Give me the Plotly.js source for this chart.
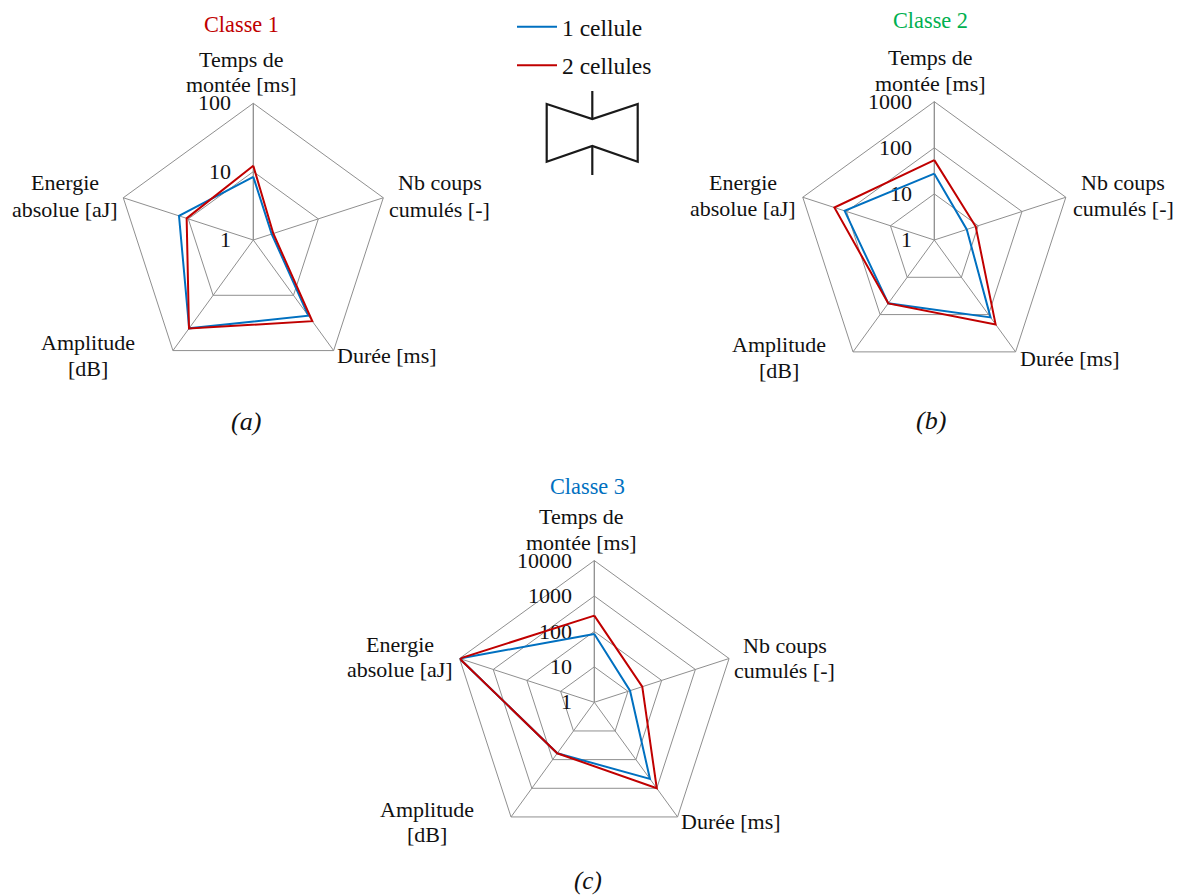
<!DOCTYPE html>
<html><head><meta charset="utf-8">
<script src="https://cdn.plot.ly/plotly-3.0.1.min.js"></script>
<style>html,body{margin:0;padding:0;background:#fff}#c{width:1182px;height:896px}</style>
</head><body><div id="c"></div>
<script>
const W = 1182, H = 896;
const categories = ["Temps de montée [ms]", "Nb coups cumulés [-]", "Durée [ms]", "Amplitude [dB]", "Energie absolue [aJ]"];
const seriesNames = ["1 cellule", "2 cellules"];
const classe1_1cellule = [8.4, 1.92, 23.4, 39.5, 13.9];
const classe1_2cellules = [12.2, 2.03, 29.4, 39.9, 10.6];
const classe2_1cellule = [27.5, 5.5, 119, 50, 111];
const classe2_2cellules = [54, 8.8, 183, 50, 190];
const classe3_1cellule = [85, 11.5, 471, 60, 10000];
const classe3_2cellules = [280, 26.5, 1000, 60, 10000];
const ticks1 = [1, 10, 100];
const ticks2 = [1, 10, 100, 1000];
const ticks3 = [1, 10, 100, 1000, 10000];

const BLUE = "#0070C0", RED = "#C00000", GREEN = "#00B050", GREY = "#8f8f8f", INK = "#111";
const FONT = "Liberation Serif";
const px = x => x / W, py = y => 1 - y / H;

function polar(cx, cy, R, ticks) {
  return {
    domain: {x: [px(cx - R), px(cx + R)], y: [py(cy + R), py(cy - R)]},
    gridshape: "linear", bgcolor: "rgba(0,0,0,0)",
    angularaxis: {type: "category", categoryarray: categories, categoryorder: "array",
      direction: "clockwise", rotation: 90, showticklabels: false, ticks: "",
      showline: true, linecolor: GREY, linewidth: 1, showgrid: true, gridcolor: GREY, gridwidth: 1, layer: "below traces"},
    radialaxis: {type: "log", range: [0, Math.log10(ticks[ticks.length - 1])], angle: 90, side: "counterclockwise",
      tickmode: "array", tickvals: ticks, ticktext: ticks.map(String), tickangle: 90,
      ticks: "outside", ticklen: 14, tickcolor: "rgba(0,0,0,0)", tickwidth: 1,
      tickfont: {family: FONT, size: 22, color: INK},
      showline: true, linecolor: GREY, linewidth: 1, showgrid: true, gridcolor: GREY, gridwidth: 1, layer: "below traces"}
  };
}
function trace(vals, name, color, subplot, legend) {
  return {type: "scatterpolar", mode: "lines", subplot, name,
    r: vals.concat(vals[0]), theta: categories.concat(categories[0]),
    line: {color, width: 2}, showlegend: legend, legendgroup: name, hoverinfo: "skip"};
}
const data = [
  trace(classe1_1cellule, seriesNames[0], BLUE, "polar", true),
  trace(classe1_2cellules, seriesNames[1], RED, "polar", true),
  trace(classe2_1cellule, seriesNames[0], BLUE, "polar2", false),
  trace(classe2_2cellules, seriesNames[1], RED, "polar2", false),
  trace(classe3_1cellule, seriesNames[0], BLUE, "polar3", false),
  trace(classe3_2cellules, seriesNames[1], RED, "polar3", false)
];

const annotations = [];
function txt(text, x, y, size, color, italic) {
  annotations.push({xref: "paper", yref: "paper", x: px(x), y: py(y), xanchor: "center", yanchor: "middle",
    showarrow: false, text: italic ? "<i>" + text + "</i>" : text,
    font: {family: FONT, size, color}});
}
function labels(rows) {
  rows.forEach(r => {
    txt(r[0], r[1], r[2], 22, INK);
    if (r[3]) txt(r[3], r[1], r[4], 22, INK);
  });
}
txt("Classe 1", 241, 25, 22.3, RED);
labels([["Temps de", 241, 59, "montée [ms]", 85], ["Nb coups", 439.5, 183, "cumulés [-]", 209],
  ["Durée [ms]", 387, 355], ["Amplitude", 88, 342, "[dB]", 368], ["Energie", 64.5, 183, "absolue [aJ]", 209]]);
txt("(a)", 245.7, 421, 26, INK, true);
txt("Classe 2", 930, 20.7, 22.3, GREEN);
labels([["Temps de", 930.7, 57.3, "montée [ms]", 83.3], ["Nb coups", 1123, 183, "cumulés [-]", 208],
  ["Durée [ms]", 1069.5, 358], ["Amplitude", 778.7, 345, "[dB]", 370.7], ["Energie", 743, 183, "absolue [aJ]", 208]]);
txt("(b)", 931, 420.7, 26, INK, true);
txt("Classe 3", 587, 486.7, 22.3, BLUE);
labels([["Temps de", 581, 516, "montée [ms]", 542], ["Nb coups", 784.7, 645, "cumulés [-]", 670],
  ["Durée [ms]", 730.7, 821.7], ["Amplitude", 426.7, 809, "[dB]", 834], ["Energie", 400, 644, "absolue [aJ]", 669]]);
txt("(c)", 587.7, 881, 25, INK, true);

function path(pts, close) {
  return pts.map((p, i) => (i ? "L" : "M") + px(p[0]).toFixed(5) + "," + py(p[1]).toFixed(5)).join(" ") + (close ? " Z" : "");
}
const sym = {type: "path", xref: "paper", yref: "paper", line: {color: "#1a1a1a", width: 2.2}};
const shapes = [
  Object.assign({}, sym, {path: path([[546.7,104],[592.3,119],[637.7,104],[637.7,161.7],[592.3,146],[546.7,161.7]], true)}),
  Object.assign({}, sym, {path: path([[592.3,91],[592.3,119]])}),
  Object.assign({}, sym, {path: path([[592.3,146],[592.3,175]])})
];

const layout = {
  width: W, height: H, margin: {l: 0, r: 0, t: 0, b: 0}, paper_bgcolor: "#fff",
  font: {family: FONT, color: INK},
  polar: polar(253.3, 240, 136.7, ticks1),
  polar2: polar(934.3, 240, 138.3, ticks2),
  polar3: polar(594.3, 702.3, 141.7, ticks3),
  showlegend: true,
  legend: {x: px(512), y: py(5), xanchor: "left", yanchor: "top", itemwidth: 40, tracegroupgap: 5,
    traceorder: "grouped", font: {family: FONT, size: 23.5, color: INK}, bgcolor: "rgba(0,0,0,0)"},
  annotations, shapes
};
Plotly.newPlot("c", data, layout, {displayModeBar: false, staticPlot: true});
</script></body></html>
